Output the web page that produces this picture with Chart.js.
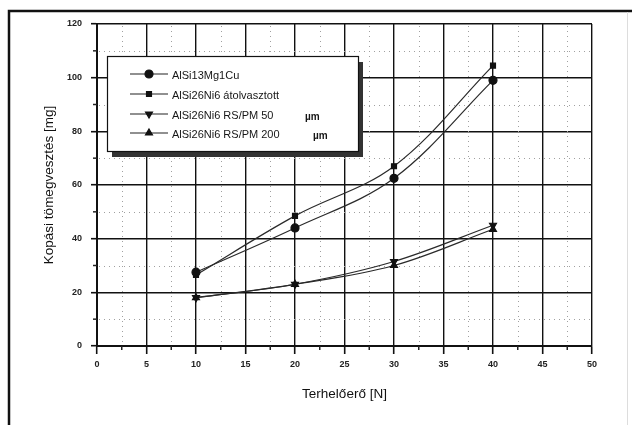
<!DOCTYPE html>
<html>
<head>
<meta charset="utf-8">
<script src="https://cdn.jsdelivr.net/npm/chart.js@4"></script>
<style>
html,body{margin:0;padding:0;background:#fff;}
canvas{display:block;}
</style>
</head>
<body>
<canvas id="c" width="632" height="425"></canvas>
<script>
// ---- data ----
const loads = [10, 20, 30, 40];
const alsi13 = [27.5, 44, 62.5, 99];
const alsi26Atolv = [26.5, 48.5, 67, 104.5];
const rspm50 = [18, 23, 31.5, 45];
const rspm200 = [18, 23, 30, 43.5];
const seriesNames = ['AlSi13Mg1Cu', 'AlSi26Ni6 átolvasztott', 'AlSi26Ni6 RS/PM 50', 'AlSi26Ni6 RS/PM 200'];
const seriesUnits = ['', '', 'µm', 'µm'];
const xTitle = 'Terhelőerő [N]';
const yTitle = 'Kopási tömegvesztés [mg]';

const pts = arr => loads.map((x, i) => ({x: x, y: arr[i]}));
const styles = [
  {ps: 'circle', rot: 0},
  {ps: 'rect', rot: 0},
  {ps: 'triangle', rot: 180},
  {ps: 'triangle', rot: 0}
];
const series = [alsi13, alsi26Atolv, rspm50, rspm200];

const datasets = series.map((s, i) => ({
  label: seriesNames[i],
  data: pts(s),
  borderColor: '#2a2a2a',
  borderWidth: 1.2,
  backgroundColor: '#111',
  pointBackgroundColor: '#111',
  pointBorderColor: '#111',
  pointStyle: styles[i].ps,
  rotation: styles[i].rot,
  pointRadius: styles[i].ps === 'rect' ? 3.5 : 4,
  tension: 0.35,
  fill: false
}));

const frame = {
  id: 'frame',
  beforeDraw(chart) {
    const ctx = chart.ctx;
    ctx.save();
    ctx.fillStyle = '#fff';
    ctx.fillRect(0, 0, chart.width, chart.height);
    ctx.strokeStyle = '#111';
    ctx.lineWidth = 2.5;
    ctx.beginPath();
    ctx.moveTo(9, 425);
    ctx.lineTo(9, 11);
    ctx.lineTo(632, 11);
    ctx.stroke();
    ctx.strokeStyle = '#ddd';
    ctx.lineWidth = 1;
    ctx.beginPath();
    ctx.moveTo(627.5, 12);
    ctx.lineTo(627.5, 425);
    ctx.stroke();
    ctx.restore();
  }
};

const minorGrid = {
  id: 'minorGrid',
  beforeDatasetsDraw(chart) {
    const {ctx, chartArea: a, scales: {x, y}} = chart;
    const mids = ticks => {
      const out = [];
      for (let i = 0; i < ticks.length - 1; i++) out.push((ticks[i].value + ticks[i + 1].value) / 2);
      return out;
    };
    const xm = mids(x.ticks), ym = mids(y.ticks);
    ctx.save();
    ctx.strokeStyle = '#a0a0a0';
    ctx.lineWidth = 1;
    ctx.setLineDash([1, 4]);
    xm.forEach(v => {
      const px = Math.round(x.getPixelForValue(v)) + 0.5;
      ctx.beginPath(); ctx.moveTo(px, a.top + 2); ctx.lineTo(px, a.bottom - 2); ctx.stroke();
    });
    ym.forEach(v => {
      const py = Math.round(y.getPixelForValue(v)) + 0.5;
      ctx.beginPath(); ctx.moveTo(a.left + 2, py); ctx.lineTo(a.right - 2, py); ctx.stroke();
    });
    ctx.setLineDash([]);
    ctx.strokeStyle = '#222';
    ctx.lineWidth = 1.5;
    xm.forEach(v => {
      const px = x.getPixelForValue(v);
      ctx.beginPath(); ctx.moveTo(px, a.bottom); ctx.lineTo(px, a.bottom + 4); ctx.stroke();
    });
    ym.forEach(v => {
      const py = y.getPixelForValue(v);
      ctx.beginPath(); ctx.moveTo(a.left - 4, py); ctx.lineTo(a.left, py); ctx.stroke();
    });
    ctx.restore();
  }
};

const boxLegend = {
  id: 'boxLegend',
  afterDraw(chart) {
    const ctx = chart.ctx;
    const L = 107, T = 56, W = 251, H = 95;
    ctx.save();
    ctx.fillStyle = '#333';
    ctx.fillRect(L + 5, T + 6, W, H);
    ctx.fillStyle = '#fff';
    ctx.fillRect(L, T, W, H);
    ctx.strokeStyle = '#111';
    ctx.lineWidth = 1.2;
    ctx.strokeRect(L + 0.5, T + 0.5, W, H);
    const rows = [74, 94, 114, 133];
    chart.data.datasets.forEach((ds, i) => {
      const yy = rows[i];
      ctx.strokeStyle = '#222';
      ctx.lineWidth = 1.2;
      ctx.beginPath(); ctx.moveTo(130, yy); ctx.lineTo(168, yy); ctx.stroke();
      ctx.fillStyle = '#111';
      ctx.strokeStyle = '#111';
      Chart.helpers.drawPoint(ctx, {
        pointStyle: ds.pointStyle, rotation: ds.rotation,
        radius: ds.pointRadius, borderWidth: 1
      }, 149, yy);
      ctx.fillStyle = '#161616';
      ctx.font = '11px "Liberation Sans", Arial, sans-serif';
      ctx.textBaseline = 'middle';
      ctx.textAlign = 'left';
      ctx.fillText(ds.label, 172, yy + 2);
      if (seriesUnits[i]) {
        ctx.font = 'bold 10px "Liberation Sans", Arial, sans-serif';
        ctx.fillText(seriesUnits[i], i === 2 ? 305 : 313, yy + 3);
      }
    });
    ctx.restore();
  }
};

new Chart(document.getElementById('c'), {
  type: 'line',
  data: {datasets: datasets},
  plugins: [frame, minorGrid, boxLegend],
  options: {
    responsive: false,
    animation: false,
    devicePixelRatio: 1,
    layout: {padding: {left: 0, top: 24, right: 40, bottom: 0}},
    plugins: {legend: {display: false}, tooltip: {enabled: false}},
    scales: {
      x: {
        type: 'linear', min: 0, max: 50,
        afterFit(s) { s.height = 79; },
        ticks: {stepSize: 5, padding: 5, color: '#222',
          font: {family: '"Liberation Sans", Arial, sans-serif', size: 9, weight: 'bold'}},
        grid: {color: '#111', lineWidth: 1.4, tickLength: 8, tickColor: '#111', tickWidth: 1.6},
        border: {color: '#111', width: 2},
        title: {display: true, text: xTitle, color: '#111',
          font: {family: '"Liberation Sans", Arial, sans-serif', size: 13.5},
          padding: {top: 0, bottom: 23}}
      },
      y: {
        min: 0, max: 120,
        afterFit(s) { s.width = 97; },
        ticks: {stepSize: 20, padding: 9, color: '#222',
          font: {family: '"Liberation Sans", Arial, sans-serif', size: 9, weight: 'bold'}},
        grid: {color: '#111', lineWidth: 1.4, tickLength: 6, tickColor: '#111', tickWidth: 1.6},
        border: {color: '#111', width: 2},
        title: {display: true, text: yTitle, color: '#111',
          font: {family: '"Liberation Sans", Arial, sans-serif', size: 13.5},
          padding: {top: 41, bottom: 0}}
      }
    }
  }
});
</script>
</body>
</html>
